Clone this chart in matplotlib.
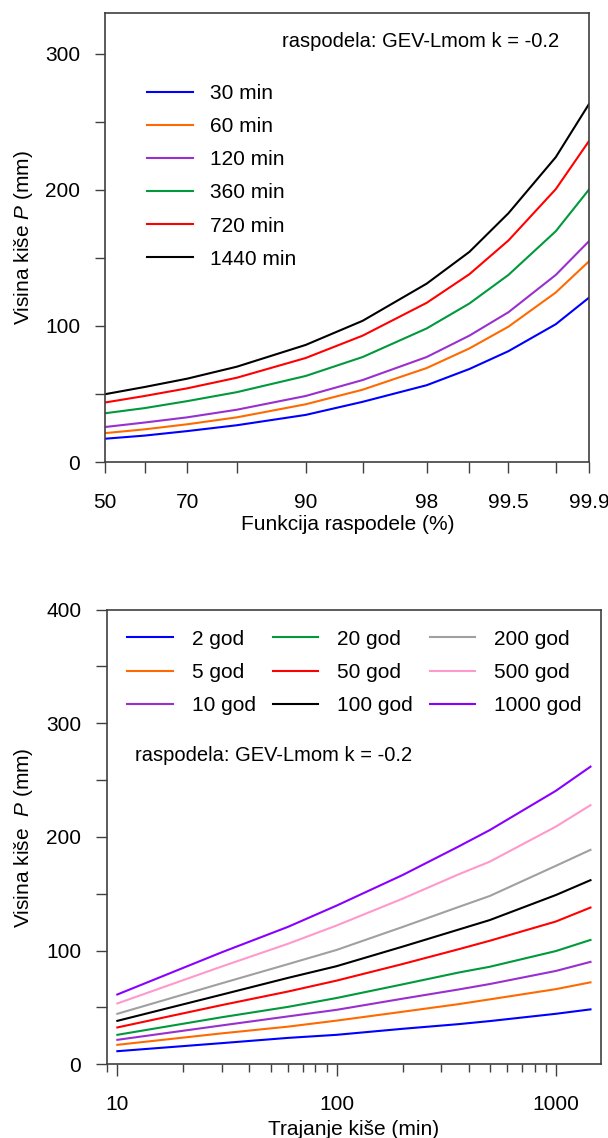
import numpy as np
import matplotlib
matplotlib.use('Agg')
import matplotlib.pyplot as plt
from matplotlib.ticker import NullFormatter, LogLocator
from statistics import NormalDist

plt.rcParams['font.family'] = ['Liberation Sans', 'DejaVu Sans']
plt.rcParams['font.size'] = 15
plt.rcParams['mathtext.fontset'] = 'custom'
plt.rcParams['mathtext.rm'] = 'Liberation Sans'
plt.rcParams['mathtext.it'] = 'Liberation Sans:italic'

# ---------- data: top chart (probability of non-exceedance, %) ----------
prob = [50, 60, 70, 80, 90, 95, 98, 99, 99.5, 99.8, 99.9]
p30 = [17.2, 19.5, 22.8, 27.1, 34.7, 44.3, 56.5, 68.4, 81.5, 101.3, 120.8]
p60 = [21.3, 24.1, 27.8, 32.9, 42.5, 53.2, 69.1, 83.5, 99.5, 124.6, 147.5]
p120 = [25.8, 29.1, 32.9, 38.5, 48.6, 60.3, 77.2, 92.9, 110.1, 137.5, 162.3]
p360 = [35.9, 39.7, 44.8, 51.4, 63.3, 77.2, 98.2, 116.5, 137.5, 169.6, 200.2]
p720 = [43.8, 48.6, 54.2, 62.0, 76.5, 92.9, 117.0, 138.0, 162.8, 200.5, 235.8]
p1440 = [49.9, 55.2, 61.3, 70.1, 86.1, 103.8, 131.1, 154.4, 182.8, 224.0, 263.0]
dur_labels = ['30 min', '60 min', '120 min', '360 min', '720 min', '1440 min']
dur_colors = ['#0000ff', '#ff6a00', '#9a2fd0', '#00993c', '#ff0000', '#000000']

prob_major = [50, 70, 90, 98, 99.5, 99.9]
prob_major_lbl = ['50', '70', '90', '98', '99.5', '99.9']
prob_minor = [60, 80, 95, 99, 99.8]

# ---------- data: bottom chart (duration, min) ----------
dur = [10, 30, 60, 100, 200, 360, 500, 1000, 1440]
t2 = [11.4, 18.5, 23.1, 25.8, 31.1, 35.2, 37.9, 44.3, 48.2]
t5 = [17.0, 27.1, 33.0, 38.3, 46.1, 52.8, 57.0, 66.0, 72.0]
t10 = [21.4, 34.1, 42.0, 47.8, 57.6, 65.7, 70.5, 82.0, 90.0]
t20 = [25.8, 41.3, 50.4, 58.2, 70.2, 80.6, 85.7, 99.5, 109.3]
t50 = [32.3, 52.0, 63.9, 73.5, 88.1, 101.1, 108.6, 125.5, 137.8]
t100 = [38.1, 61.2, 75.9, 86.2, 103.4, 118.4, 126.8, 148.8, 161.9]
t200 = [44.3, 71.2, 88.0, 100.5, 120.7, 138.3, 148.0, 174.5, 188.6]
t500 = [53.4, 86.0, 105.9, 122.0, 145.6, 167.0, 178.2, 209.0, 227.9]
t1000 = [61.3, 98.5, 120.8, 139.5, 166.4, 191.5, 206.0, 240.5, 261.8]
rp_labels = ['2 god', '5 god', '10 god', '20 god', '50 god', '100 god',
             '200 god', '500 god', '1000 god']
rp_colors = ['#0000ff', '#ff6a00', '#9a2fd0', '#00993c', '#ff0000', '#000000',
             '#a0a0a0', '#ff99cc', '#8800ff']

ND = NormalDist()


def fwd(p):
    p = np.clip(np.asarray(p, dtype=float), 1e-6, 100 - 1e-6)
    return np.vectorize(ND.inv_cdf, otypes=[float])(p / 100.0)


def inv(z):
    return np.vectorize(ND.cdf, otypes=[float])(np.asarray(z, dtype=float)) * 100.0


spine_c = '#404040'

fig = plt.figure(figsize=(6.08, 11.38), dpi=100)

# ------------------------- top chart -------------------------
ax1 = fig.add_axes([0.1727, 0.5939, 0.7960, 0.3948])
ax1.set_xscale('function', functions=(fwd, inv))
for ys, lbl, c in zip([p30, p60, p120, p360, p720, p1440], dur_labels, dur_colors):
    ax1.plot(prob, ys, color=c, lw=1.5, label=lbl)
ax1.set_xlim(50, 99.9)
ax1.set_ylim(0, 330)
ax1.set_xticks(prob_major, prob_major_lbl)
ax1.set_xticks(prob_minor, minor=True)
ax1.xaxis.set_minor_formatter(NullFormatter())
ax1.set_yticks([0, 100, 200, 300])
ax1.set_yticks([50, 150, 250], minor=True)
ax1.tick_params(axis='x', which='both', direction='out', length=8, width=1,
                color=spine_c, pad=14.5)
ax1.tick_params(axis='y', which='both', direction='out', length=7.5, width=1,
                color=spine_c, pad=10.5)
ax1.set_xlabel('Funkcija raspodele (%)')
ax1.xaxis.set_label_coords(0.501, -0.138)
ax1.xaxis.label.set_va('center')
ax1.set_ylabel('Visina kiše $P$ (mm)')
ax1.yaxis.set_label_coords(-0.169, 0.5)
ax1.yaxis.label.set_va('center')
ax1.text(0.939, 0.936, 'raspodela: GEV-Lmom k = -0.2', transform=ax1.transAxes,
         ha='right', va='center', fontsize=14.5)
ax1.legend(loc='upper left', bbox_to_anchor=(0.0866, 0.842), frameon=False,
           handlelength=2.2, handletextpad=0.85, labelspacing=0.68,
           borderpad=0, borderaxespad=0)

# ------------------------- bottom chart -------------------------
ax2 = fig.add_axes([0.1765, 0.0649, 0.8112, 0.3994])
ax2.set_xscale('log')
for ys, lbl, c in zip([t2, t5, t10, t20, t50, t100, t200, t500, t1000],
                      rp_labels, rp_colors):
    ax2.plot(dur, ys, color=c, lw=1.5, label=lbl)
ax2.set_xlim(9, 1600)
ax2.set_ylim(0, 400)
ax2.set_xticks([10, 100, 1000], ['10', '100', '1000'])
ax2.xaxis.set_minor_locator(LogLocator(base=10, subs=np.arange(2, 10)))
ax2.xaxis.set_minor_formatter(NullFormatter())
ax2.set_yticks([0, 100, 200, 300, 400])
ax2.set_yticks([50, 150, 250, 350], minor=True)
ax2.tick_params(axis='x', which='major', direction='out', length=8.5, width=1,
                color=spine_c, pad=14)
ax2.tick_params(axis='x', which='minor', direction='out', length=5.5, width=1,
                color=spine_c)
ax2.tick_params(axis='y', which='both', direction='out', length=7.8, width=1,
                color=spine_c, pad=11)
ax2.set_xlabel('Trajanje kiše (min)')
ax2.xaxis.set_label_coords(0.499, -0.143)
ax2.xaxis.label.set_va('center')
ax2.set_ylabel('Visina kiše  $P$ (mm)')
ax2.yaxis.set_label_coords(-0.170, 0.498)
ax2.yaxis.label.set_va('center')
ax2.text(0.0566, 0.679, 'raspodela: GEV-Lmom k = -0.2', transform=ax2.transAxes,
         ha='left', va='center', fontsize=14.5)
ax2.legend(loc='upper left', bbox_to_anchor=(0.0406, 0.956), frameon=False,
           ncol=3, handlelength=2.2, handletextpad=0.9, labelspacing=0.68,
           columnspacing=0.8, borderpad=0, borderaxespad=0)

for ax in (ax1, ax2):
    for s in ax.spines.values():
        s.set_color(spine_c)
        s.set_linewidth(1.2)

fig.savefig('out.png', dpi=100)
